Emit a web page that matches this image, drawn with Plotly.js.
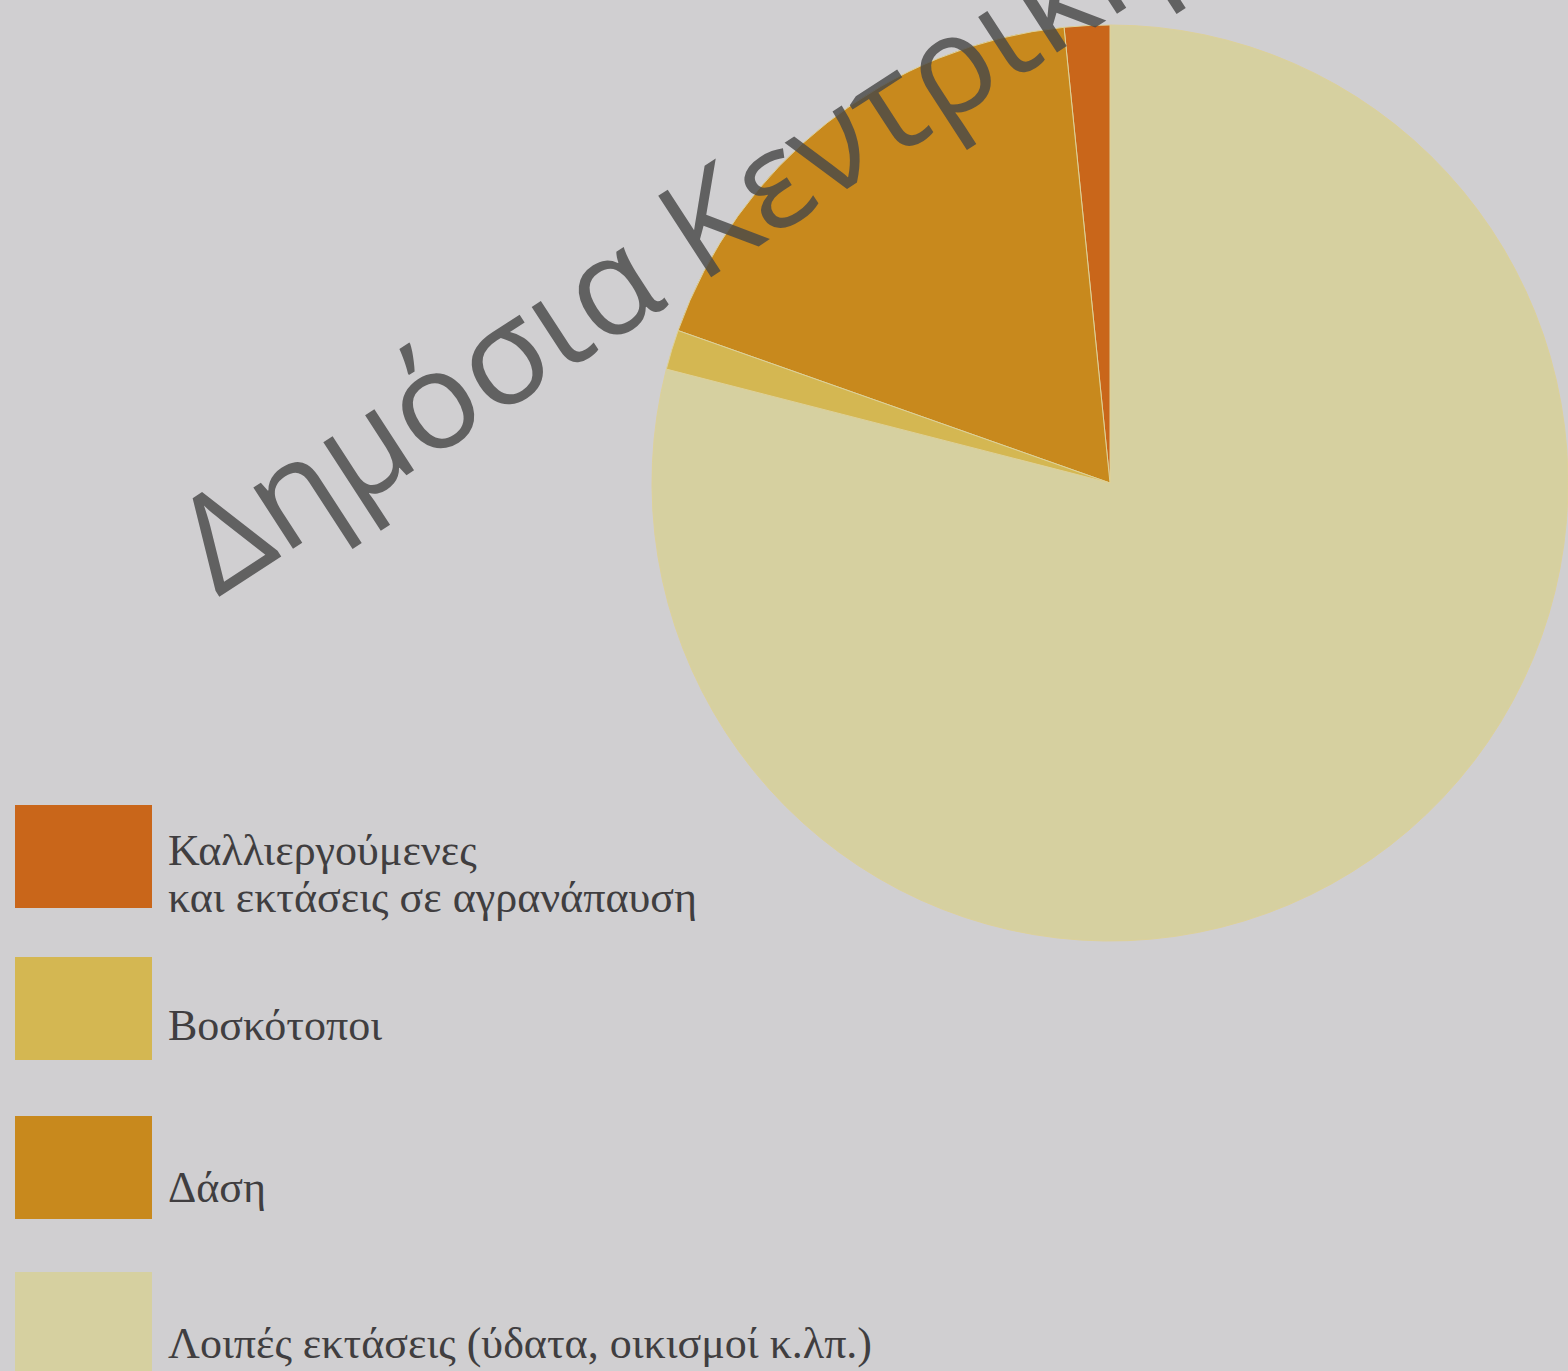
<!DOCTYPE html>
<html>
<head>
<meta charset="utf-8">
<script src="https://cdn.plot.ly/plotly-3.0.1.min.js"></script>
<style>
  html, body { margin: 0; padding: 0; background: #d0cfd1; }
  #chart { width: 1568px; height: 1371px; }
</style>
</head>
<body>
<div id="chart"></div>
<script>
// ---- data (legend order) ----
const categories = [
  'Καλλιεργούμενες<br>και εκτάσεις σε αγρανάπαυση',
  'Βοσκότοποι',
  'Δάση',
  'Λοιπές εκτάσεις (ύδατα, οικισμοί κ.λπ.)'
];
const shares = [1.6, 1.4, 18, 79];          // percent of area
const sliceColors = ['#c9661a', '#d4b752', '#c8891d', '#d6d0a0'];
// Plotly (counterclockwise) ends the first slice at 12 o'clock, the rest follow to the left
const pieOrder = [3, 0, 2, 1];
const watermark = 'Δημόσια Κεντρική';

// ---- layout helpers ----
const W = 1568, H = 1371;
const px = x => x / W;
const py = y => 1 - y / H;

const pieTrace = {
  type: 'pie',
  labels: pieOrder.map(i => categories[i]),
  values: pieOrder.map(i => shares[i]),
  marker: { colors: pieOrder.map(i => sliceColors[i]), line: { color: '#ddd19a', width: 1 } },
  sort: false,
  direction: 'counterclockwise',
  rotation: 0,
  textinfo: 'none',
  textposition: 'none',
  hoverinfo: 'label+percent',
  showlegend: false,
  domain: { x: [px(652), px(1568)], y: [py(941), py(25)] }
};

// manual legend (large swatches)
const swatchTop = [805, 957, 1116, 1272];
const swatchH = 103;
const textY = [850, 1025, 1187, 1343];
const lineGap = 47;
const shapes = categories.map((c, i) => ({
  type: 'rect', xref: 'paper', yref: 'paper',
  x0: px(15), x1: px(152), y0: py(swatchTop[i] + swatchH), y1: py(swatchTop[i]),
  fillcolor: sliceColors[i], line: { width: 0 }, layer: 'above'
}));
const annotations = [];
categories.forEach((c, i) => {
  c.split('<br>').forEach((line, k) => {
    annotations.push({
      xref: 'paper', yref: 'paper', x: px(166), y: py(textY[i] + k * lineGap),
      xanchor: 'left', yanchor: 'middle', align: 'left', showarrow: false,
      text: line,
      font: { family: 'Liberation Serif, Times New Roman, serif', size: 44, color: '#403e40' }
    });
  });
});
annotations.push({
  xref: 'paper', yref: 'paper', x: px(668), y: py(242),
  xanchor: 'center', yanchor: 'middle', showarrow: false,
  text: watermark, textangle: -33,
  font: { family: 'Open Sans, sans-serif', size: 136, color: 'rgba(72,72,72,0.82)' }
});

const layout = {
  width: W, height: H,
  margin: { l: 0, r: 0, t: 0, b: 0 },
  paper_bgcolor: '#d0cfd1',
  plot_bgcolor: '#d0cfd1',
  showlegend: false,
  shapes: shapes,
  annotations: annotations
};

Plotly.newPlot('chart', [pieTrace], layout, { displayModeBar: false, staticPlot: true });
</script>
</body>
</html>
